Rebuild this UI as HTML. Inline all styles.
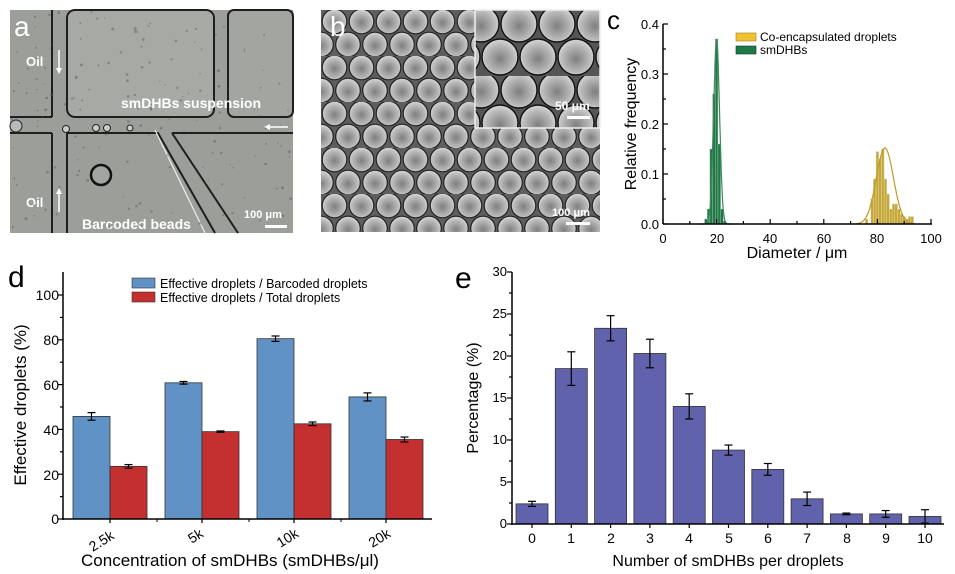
<!DOCTYPE html>
<html><head><meta charset="utf-8">
<style>
html,body{margin:0;padding:0;background:#fff;}
svg{display:block;font-family:"Liberation Sans",Arial,sans-serif;}
</style></head>
<body>
<svg id="s" width="955" height="574" viewBox="0 0 955 574" xmlns="http://www.w3.org/2000/svg">
<defs>
<radialGradient id="dg" cx="0.5" cy="0.55" r="0.5">
<stop offset="0" stop-color="#7f7f7f"/><stop offset="0.75" stop-color="#b8b8b8"/><stop offset="1" stop-color="#cfcfcf"/>
</radialGradient>
<pattern id="drops" x="321" y="10" width="27" height="46" patternUnits="userSpaceOnUse">
<rect width="27" height="46" fill="#5e5e5e"/>
<circle cx="13.5" cy="11.5" r="12.3" fill="url(#dg)" stroke="#222" stroke-width="1.2"/>
<circle cx="0" cy="34.5" r="12.3" fill="url(#dg)" stroke="#222" stroke-width="1.2"/>
<circle cx="27" cy="34.5" r="12.3" fill="url(#dg)" stroke="#222" stroke-width="1.2"/>
</pattern>
<pattern id="drops2" x="462" y="10" width="38" height="66" patternUnits="userSpaceOnUse">
<rect width="38" height="66" fill="#555"/>
<circle cx="19" cy="14" r="18" fill="url(#dg)" stroke="#111" stroke-width="1.4"/>
<circle cx="0" cy="47" r="18" fill="url(#dg)" stroke="#111" stroke-width="1.4"/>
<circle cx="38" cy="47" r="18" fill="url(#dg)" stroke="#111" stroke-width="1.4"/>
</pattern>
</defs>

<!-- Panel a -->
<g>
<rect x="10" y="10" width="283" height="223" fill="#9c9f99"/>
<rect x="67" y="10" width="147" height="107" rx="8" fill="#a7aaa4" stroke="#1e1e1e" stroke-width="2"/>
<rect x="228" y="10" width="65" height="107" rx="6" fill="#a3a6a0" stroke="#1e1e1e" stroke-width="2"/>
<line x1="52" y1="10" x2="52" y2="117" stroke="#1e1e1e" stroke-width="2"/>
<line x1="52" y1="133" x2="52" y2="233" stroke="#1e1e1e" stroke-width="2"/>
<line x1="67" y1="133" x2="67" y2="233" stroke="#1e1e1e" stroke-width="2"/>
<line x1="10" y1="117" x2="52" y2="117" stroke="#1e1e1e" stroke-width="2"/>
<line x1="10" y1="133" x2="52" y2="133" stroke="#1e1e1e" stroke-width="2"/>
<line x1="228" y1="133" x2="293" y2="133" stroke="#1e1e1e" stroke-width="2"/>
<path d="M67 133 L158 133 L215 233" fill="none" stroke="#1e1e1e" stroke-width="2"/>
<path d="M172 133 L228 133 M172 133 L238 233" fill="none" stroke="#1e1e1e" stroke-width="2"/>
<path d="M155 130 L205 233" stroke="#eee" stroke-width="1.2" fill="none"/>
<circle cx="101" cy="175" r="10" fill="#a3a6a0" stroke="#111" stroke-width="2.5"/>
<circle cx="66" cy="129" r="3.5" fill="#ccc" stroke="#222"/><circle cx="96" cy="128" r="3.5" fill="#ccc" stroke="#222"/><circle cx="107" cy="128" r="3.5" fill="#ccc" stroke="#222"/><circle cx="130" cy="128" r="3" fill="#ccc" stroke="#222"/>
<circle cx="16" cy="126" r="6" fill="#bbb" stroke="#222"/>
<text x="14" y="36" font-size="28" fill="#fff">a</text>
<text x="26" y="66" font-size="13" font-weight="bold" fill="#fff">Oil</text>
<text x="26" y="207" font-size="13" font-weight="bold" fill="#fff">Oil</text>
<line x1="59" y1="50" x2="59" y2="72" stroke="#fff" stroke-width="1.5"/><path d="M56 68 L59 74 L62 68Z" fill="#fff"/>
<line x1="59" y1="190" x2="59" y2="212" stroke="#fff" stroke-width="1.5"/><path d="M56 194 L59 188 L62 194Z" fill="#fff"/>
<text x="121" y="108" font-size="14" font-weight="bold" fill="#fff">smDHBs suspension</text>
<line x1="266" y1="127" x2="288" y2="127" stroke="#fff" stroke-width="1.5"/><path d="M270 124 L264 127 L270 130Z" fill="#fff"/>
<text x="82" y="229" font-size="14" font-weight="bold" fill="#fff">Barcoded beads</text>
<text x="244" y="218" font-size="11" font-weight="bold" fill="#fff">100 μm</text>
<rect x="265" y="225" width="22" height="3" fill="#fff"/>
</g>

<!-- Panel b -->
<g>
<rect x="321" y="10" width="279" height="222" fill="url(#drops)"/>
<rect x="475" y="10" width="125" height="118" fill="url(#drops2)" stroke="#eee" stroke-width="1.5"/>
<text x="330" y="36" font-size="28" fill="#fff">b</text>
<text x="555" y="110" font-size="12" font-weight="bold" fill="#fff">50 μm</text>
<rect x="567" y="116" width="23" height="3" fill="#fff"/>
<text x="552" y="216" font-size="11" font-weight="bold" fill="#fff">100 μm</text>
<rect x="566" y="222" width="24" height="3" fill="#fff"/>
</g>

<!-- Panel c -->
<g id="pc">
<text x="607" y="29" font-size="26">c</text>
<text transform="translate(636,124) rotate(-90)" font-size="16" text-anchor="middle">Relative frequency</text>
<g font-size="13" text-anchor="end">
<text x="659" y="29">0.4</text><text x="659" y="79">0.3</text><text x="659" y="129">0.2</text><text x="659" y="179">0.1</text><text x="659" y="229">0.0</text>
</g>
<g font-size="13" text-anchor="middle">
<text x="663" y="243">0</text><text x="717" y="243">20</text><text x="770" y="243">40</text><text x="824" y="243">60</text><text x="877" y="243">80</text><text x="931" y="243">100</text>
</g>
<text x="797" y="258" font-size="16" text-anchor="middle">Diameter / μm</text>
<rect x="736" y="33" width="20" height="8" fill="#f2c231" stroke="#a08020" stroke-width="0.6"/>
<rect x="736" y="46" width="20" height="8" fill="#1c7a45" stroke="#134" stroke-width="0.6"/>
<text x="760" y="41" font-size="12">Co-encapsulated droplets</text>
<text x="760" y="54" font-size="12">smDHBs</text>
</g>

<!-- Panel d -->
<g id="pd">
<text x="8" y="287" font-size="30">d</text>
<text transform="translate(26,405) rotate(-90)" font-size="17" text-anchor="middle">Effective  droplets (%)</text>
<g font-size="14" text-anchor="end">
<text x="59" y="300">100</text><text x="59" y="345">80</text><text x="59" y="390">60</text><text x="59" y="435">40</text><text x="59" y="480">20</text><text x="59" y="524">0</text>
</g>
<g font-size="14" text-anchor="middle">
<text transform="translate(104,545) rotate(-32)">2.5k</text>
<text transform="translate(198,540) rotate(-32)">5k</text>
<text transform="translate(290,542) rotate(-32)">10k</text>
<text transform="translate(382,542) rotate(-32)">20k</text>
</g>
<text x="230" y="566" font-size="17" text-anchor="middle">Concentration of smDHBs (smDHBs/μl)</text>
<rect x="132" y="278" width="23" height="10" fill="#6192c6" stroke="#333" stroke-width="0.6"/>
<rect x="132" y="292" width="23" height="10" fill="#c3302f" stroke="#333" stroke-width="0.6"/>
<text x="160" y="288" font-size="12.5">Effective droplets / Barcoded droplets</text>
<text x="160" y="302" font-size="12.5">Effective droplets / Total droplets</text>
</g>

<!-- Panel e -->
<g id="pe">
<text x="455" y="288" font-size="30">e</text>
<text transform="translate(478,398) rotate(-90)" font-size="16" text-anchor="middle">Percentage (%)</text>
<g font-size="13" text-anchor="end">
<text x="507" y="276">30</text><text x="507" y="318">25</text><text x="507" y="360">20</text><text x="507" y="402">15</text><text x="507" y="444">10</text><text x="507" y="486">5</text><text x="507" y="528">0</text>
</g>
<g font-size="14" text-anchor="middle">
<text x="532" y="543">0</text><text x="571" y="543">1</text><text x="611" y="543">2</text><text x="650" y="543">3</text><text x="689" y="543">4</text><text x="729" y="543">5</text><text x="768" y="543">6</text><text x="807" y="543">7</text><text x="847" y="543">8</text><text x="886" y="543">9</text><text x="925" y="543">10</text>
</g>
<text x="728" y="566" font-size="16" text-anchor="middle">Number of smDHBs per droplets</text>
</g>
</svg>
<script>
var S=document.getElementById('s'),NS='http://www.w3.org/2000/svg';
function el(t,a){var e=document.createElementNS(NS,t);for(var k in a)e.setAttribute(k,a[k]);S.appendChild(e);return e;}
function line(x1,y1,x2,y2,w,c){el('line',{x1:x1,y1:y1,x2:x2,y2:y2,stroke:c||'#000','stroke-width':w||1});}
function err(x,y,e,sc,hw){line(x,y-e*sc,x,y+e*sc,1.2);line(x-hw,y-e*sc,x+hw,y-e*sc,1.2);line(x-hw,y+e*sc,x+hw,y+e*sc,1.2);}
// speckles panel a
(function(){var s=7;function r(){s=(s*9301+49297)%233280;return s/233280;}
for(var i=0;i<160;i++){el('circle',{cx:12+r()*280,cy:12+r()*220,r:0.6+r()*0.9,fill:'#555','fill-opacity':0.45});}})();
// panel c
(function(){var X=function(v){return 663+2.68*v},Y=function(f){return 224-500*f};
var g={16:.01,17:.03,18:.15,19:.26,20:.37,21:.16,22:.03,23:.006};
var y={76:.01,78:.05,79:.09,80:.145,81:.13,82:.15,83:.09,84:.06,85:.03,86:.04,87:.04,88:.03,89:.02,90:.015,91:.01,92:.015,93:.015};
for(var k in g)el('rect',{x:X(+k-0.5),y:Y(g[k]),width:2.68,height:500*g[k],fill:'#1c7a45',stroke:'#bbb','stroke-width':0.4});
for(var k in y)el('rect',{x:X(+k-0.5),y:Y(y[k]),width:2.68,height:500*y[k],fill:'#c8a830',stroke:'#ddd','stroke-width':0.4});
var p='',q='';for(var v=14;v<=26;v+=0.2){p+=(p?'L':'M')+X(v).toFixed(1)+' '+Y(.37*Math.exp(-Math.pow(v-20,2)/(2*1.1*1.1))).toFixed(1);}
for(var v=72;v<=94;v+=0.25){q+=(q?'L':'M')+X(v).toFixed(1)+' '+Y(.152*Math.exp(-Math.pow(v-82.8,2)/(2*3.2*3.2))).toFixed(1);}
el('path',{d:p,fill:'none',stroke:'#3a8a5a','stroke-width':1.2});el('path',{d:q,fill:'none',stroke:'#c09a28','stroke-width':1.2});
line(663,24,663,224,1.5);line(663,224,932,224,1.5);
for(var i=0;i<=8;i++){var yy=224-25*i;line(663,yy,i%2?666:668,yy,1.2);}
for(var i=0;i<=10;i++){var xx=663+26.8*i;line(xx,224,xx,i%2?221:219,1.2);}
})();
// panel d
(function(){var B=[45.8,60.8,80.5,54.5],R=[23.5,39,42.5,35.5],EB=[1.7,.6,1.2,1.8],ER=[.8,.3,.8,1.1],x0=[73,165,257,349],Y=function(v){return 519-2.24*v};
for(var i=0;i<4;i++){el('rect',{x:x0[i],y:Y(B[i]),width:37,height:2.24*B[i],fill:'#6192c6',stroke:'#333','stroke-width':0.8});
el('rect',{x:x0[i]+37,y:Y(R[i]),width:37,height:2.24*R[i],fill:'#c3302f',stroke:'#333','stroke-width':0.8});
err(x0[i]+18.5,Y(B[i]),EB[i],2.24,4);err(x0[i]+55.5,Y(R[i]),ER[i],2.24,4);line(x0[i]+37,519,x0[i]+37,523,1.2);}
line(63,272,63,520,1.5);line(62,519,432,519,1.5);
for(var i=0;i<=10;i++){var yy=519-22.4*i;line(63,yy,i%2?60:58,yy,1.2);}
[157,249,341].forEach(function(x){line(x,519,x,522,1)});
})();
// panel e
(function(){var V=[2.4,18.5,23.3,20.3,14,8.8,6.5,3,1.2,1.2,.9],E=[.3,2,1.5,1.7,1.5,.6,.7,.8,.1,.4,.8],Y=function(v){return 524-8.4*v};
for(var i=0;i<11;i++){var c=532+39.3*i;el('rect',{x:c-16,y:Y(V[i]),width:32,height:8.4*V[i],fill:'#6062ac',stroke:'#333','stroke-width':0.8});err(c,Y(V[i]),E[i],8.4,4);line(c,524,c,528,1.2);}
line(512,272,512,525,1.5);line(511,524,944,524,1.5);
for(var i=0;i<=12;i++){var yy=524-21*i;line(512,yy,i%2?509:507,yy,1.2);}
})();
</script>
</body></html>
